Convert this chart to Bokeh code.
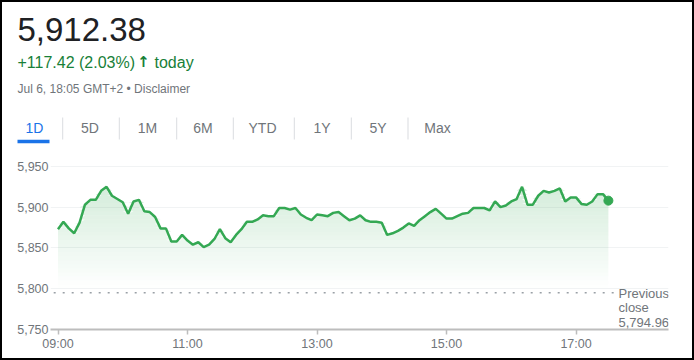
import numpy as np
import pandas as pd
from bokeh.plotting import figure
from bokeh.layouts import column
from bokeh.models import (Range1d, FixedTicker, NumeralTickFormatter,
                          DatetimeTickFormatter, Label, BoxAnnotation)
from bokeh.embed import file_html
from bokeh.resources import INLINE

# ---------------- data ----------------
price = [5873, 5882, 5874, 5868, 5881, 5903, 5909, 5909, 5920, 5925,
         5914, 5910, 5906, 5892, 5907, 5909, 5895, 5894, 5888, 5874,
         5874, 5858, 5858, 5866, 5859, 5854, 5857, 5851, 5854, 5861,
         5873, 5862, 5857, 5866, 5873, 5882, 5882, 5885, 5890, 5889,
         5889, 5899, 5899, 5897, 5899, 5891, 5887, 5884, 5891, 5890,
         5889, 5893, 5894, 5889, 5884, 5886, 5890, 5884, 5882, 5882,
         5881, 5866, 5868, 5871, 5875, 5880, 5877, 5884, 5889, 5894,
         5898, 5892, 5886, 5886, 5889, 5892, 5893, 5899, 5899, 5899,
         5896, 5907, 5900, 5902, 5907, 5910, 5925, 5903, 5903, 5914,
         5920, 5918, 5920, 5923, 5907, 5912, 5912, 5904, 5903, 5907,
         5916, 5916, 5908]
session_start = "2020-07-06 09:00"
times = pd.date_range(session_start, periods=len(price), freq="5min")
prev_close = 5794.96
last_price_text = "5,912.38"
change_text = "+117.42 (2.03%)"
stamp_text = "Jul 6, 18:05 GMT+2 \u2022 Disclaimer"
y_ticks = [5750, 5800, 5850, 5900, 5950]
x_tick_labels = ["09:00", "11:00", "13:00", "15:00", "17:00"]
tabs = ["1D", "5D", "1M", "6M", "YTD", "1Y", "5Y", "Max"]

FONT = "Liberation Sans"
GREEN = "#34a853"
DKGREEN = "#188038"
GRAY = "#70757a"
BLUE = "#1a73e8"

# ---------------- header figure (reference pixel coords, offset by border) ----------------
B = 2                 # outer border width
CW = 694 - 2 * B      # inner width
HH = 144              # header height (ref y 2..146)
CH = 360 - 2 * B - HH  # chart height
BASE_FIX = 0.37       # empirical baseline correction (fraction of font size)

hdr = figure(width=CW, height=HH, x_range=Range1d(B, B + CW), y_range=Range1d(B + HH, B),
             x_axis_location=None, y_axis_location=None, output_backend="svg",
             toolbar_location=None, min_border=0)
hdr.outline_line_color = None
hdr.grid.visible = False
hdr.frame_align = False


def hlab(text, x, y, size, color, align="left", font=FONT, style="normal"):
    hdr.add_layout(Label(x=x, y=y - BASE_FIX * size, text=text, text_font=font,
                         text_font_size=f"{size}px", text_color=color, text_align=align,
                         text_baseline="alphabetic", text_font_style=style))


def hbox(l, t, r, b, color):
    hdr.add_layout(BoxAnnotation(left=l, right=r, top=t, bottom=b, fill_color=color,
                                 fill_alpha=1, line_color=None))


hlab(last_price_text, 17, 41.7, 33, "#202124")
hlab(change_text, 17, 67.7, 16, DKGREEN)
hlab("\u2191", 143, 67.5, 15, DKGREEN, align="center", font="DejaVu Sans", style="bold")
hlab("today", 154, 67.7, 16, DKGREEN)
hlab(stamp_text, 17, 93, 12, GRAY)

tab_centers = [34, 89.5, 147, 202.5, 262, 321.5, 377.5, 437]
for name, cx in zip(tabs, tab_centers):
    hlab(name, cx, 132.3, 14, BLUE if name == "1D" else GRAY, align="center")
for sx_ in [61.7, 118.3, 175.7, 232.3, 293.3, 350.3, 407]:
    hbox(sx_, 117, sx_ + 1, 139, "#dadce0")
hbox(17, 139.3, 49, 142.7, BLUE)

# ---------------- chart figure ----------------
# frame in reference pixels: left 50, right 668, top 150, bottom 329
FL, FR, FT, FBm = 50 - B, 668 - B, 150 - B - HH, 329 - B - HH
px_per_min = 1.0792
px_per_unit = 0.8155
x_start = times[0] - pd.Timedelta(minutes=7.5 / px_per_min)
x_end = x_start + pd.Timedelta(minutes=(FR - FL) / px_per_min)
y_start = y_ticks[0]
y_end = y_start + (FBm - FT) / px_per_unit

p = figure(width=CW, height=CH, x_axis_type="datetime",
           x_range=Range1d(x_start, x_end), y_range=Range1d(y_start, y_end),
           output_backend="svg", toolbar_location=None,
           min_border_left=FL, min_border_right=CW - FR,
           min_border_top=FT, min_border_bottom=CH - FBm)
p.outline_line_color = None
p.background_fill_color = "white"
p.border_fill_color = "white"
p.frame_align = False

# gradient area (stacked bands)
arr = np.array(price, dtype=float)
band = 5
for lo in np.arange(5800, 5935, band):
    top = np.clip(arr, lo, lo + band)
    alpha = max(0.0, 0.2 * ((lo + band / 2) - 5800) / 120)
    p.varea(x=times, y1=float(lo), y2=top, fill_color=GREEN, fill_alpha=alpha)

# previous close dotted line
p.line([times[0] - pd.Timedelta(minutes=4), times[-1] + pd.Timedelta(minutes=5)],
       [prev_close, prev_close], line_color="#9aa0a6", line_width=1.5,
       line_dash="2 7")

p.line(times, price, line_color=GREEN, line_width=2.5)
p.scatter([times[-1]], [price[-1]], size=9, color=GREEN)

# axes
xa = p.xaxis[0]
xa.ticker = FixedTicker(ticks=[pd.Timestamp(f"2020-07-06 {t}").value / 1e6 for t in x_tick_labels])
fmt = "%H:%M"
xa.formatter = DatetimeTickFormatter(hours=fmt, hourmin=fmt, minutes=fmt, minsec=fmt, days=fmt)
xa.axis_line_color = "#bdbdbd"
xa.axis_line_width = 2
xa.major_tick_line_color = "#bdbdbd"
xa.major_tick_line_width = 1.5
xa.major_tick_out = 5
xa.major_tick_in = 0
xa.minor_tick_line_color = None
xa.major_label_standoff = 2
xa.major_label_text_font = FONT
xa.major_label_text_font_size = "12.5px"
xa.major_label_text_color = GRAY

ya = p.yaxis[0]
ya.ticker = FixedTicker(ticks=y_ticks)
ya.formatter = NumeralTickFormatter(format="0,0")
ya.axis_line_color = None
ya.major_tick_line_color = None
ya.minor_tick_line_color = None
ya.major_tick_out = 0
ya.major_tick_in = 0
ya.minor_tick_out = 0
ya.major_label_standoff = 2
ya.major_label_text_font = FONT
ya.major_label_text_font_size = "12.5px"
ya.major_label_text_color = GRAY

p.xgrid.visible = False
p.ygrid.grid_line_color = "#f1f3f4"
p.ygrid.grid_line_width = 1


def plab(text, xref, yref, size, color):
    # screen units are relative to the frame (x from left, y up from bottom)
    p.add_layout(Label(x=xref - 50, y=329 - (yref - BASE_FIX * size), x_units="screen",
                       y_units="screen", text=text, text_font=FONT,
                       text_font_size=f"{size}px", text_color=color,
                       text_baseline="alphabetic"))


plab("Previous", 618, 297.5, 13, GRAY)
plab("close", 618, 312.2, 13, GRAY)
plab(f"{prev_close:,.2f}", 618, 326.5, 13, GRAY)

layout = column(hdr, p, spacing=0, styles={"border": f"{B}px solid black"})

open("out.html", "w").write(file_html(layout, INLINE))
